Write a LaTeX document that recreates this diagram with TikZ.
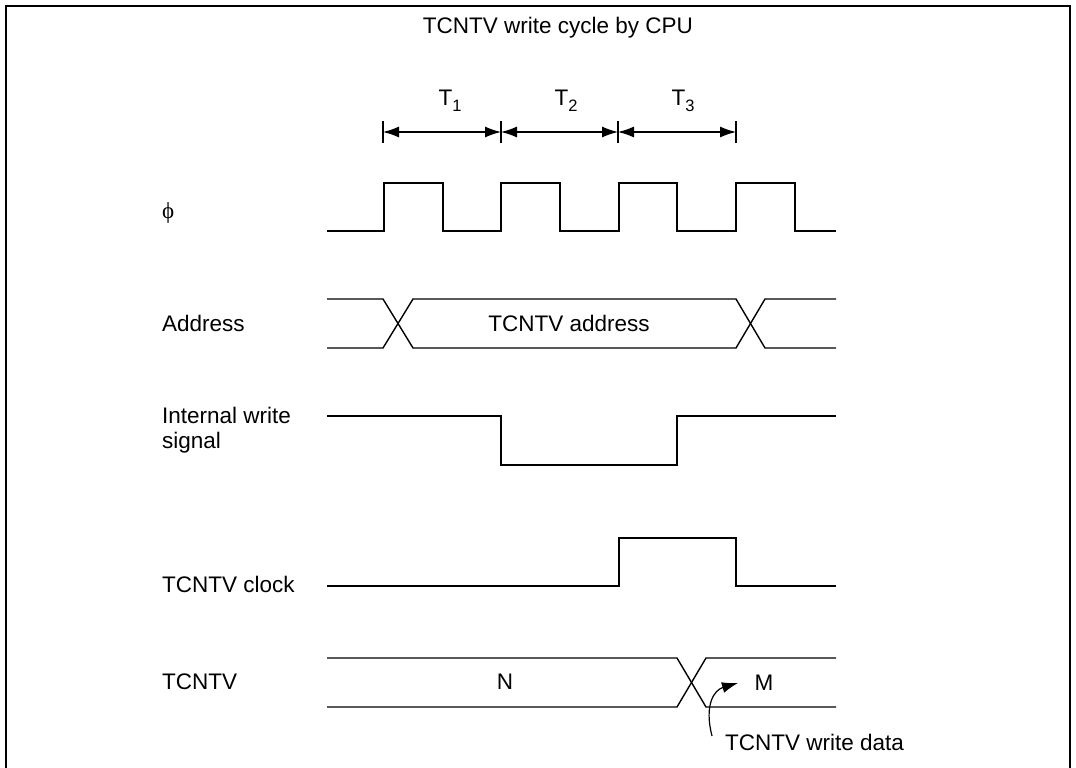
\documentclass[tikz,border=0pt]{standalone}
\usepackage{fontspec}
\setmainfont{Liberation Sans}
\newfontfamily\phifont{Liberation Serif}
\usetikzlibrary{arrows.meta}
\newcommand{\tsub}[1]{T\raisebox{-6pt}{\fontsize{16.5}{16.5}\selectfont #1}}
\begin{document}
\begin{tikzpicture}[x=1pt,y=-1pt,
  wave/.style={line width=1.4pt,line join=miter},
  lbl/.style={font=\fontsize{22.5}{25}\selectfont,inner sep=0pt},
  leftlbl/.style={lbl,anchor=west,align=left},
  tick/.style={line width=1.2pt},
  span/.style={line width=1.2pt,{Latex[length=16pt,width=11pt]}-{Latex[length=16pt,width=11pt]}},
  frame/.style={line width=2pt}]
\useasboundingbox (0,0) rectangle (1076,768);
\draw[frame] (6,775) -- (6,6) -- (1070,6) -- (1070,775);
% title
\node[lbl] (title) at (558,28) {TCNTV write cycle by CPU};
% T labels
\node[lbl] (t1) at (450,101) {\tsub{1}};
\node[lbl] (t2) at (566,101) {\tsub{2}};
\node[lbl] (t3) at (683,101) {\tsub{3}};
% ticks
\coordinate (k0) at (383,132);
\coordinate (k1) at (501,132);
\coordinate (k2) at (618,132);
\coordinate (k3) at (736,132);
\foreach \k in {k0,k1,k2,k3}{\draw[tick] ([yshift=-11pt]\k) -- ([yshift=11pt]\k);}
\draw[span] (k0) -- (k1);
\draw[span] (k1) -- (k2);
\draw[span] (k2) -- (k3);
% left labels
\node[leftlbl,font=\fontsize{23}{26}\phifont] (lphi) at (162,213) {ϕ};
\node[leftlbl] (laddr) at (162,323) {Address};
\node[leftlbl] (liws) at (162,430) {Internal write\\signal};
\node[leftlbl] (lclk) at (162,584) {TCNTV clock};
\node[leftlbl] (ltc) at (162,682) {TCNTV};
% phi clock
\draw[wave] (327,231) -- (384,231) -- (384,183) -- (443,183) -- (443,231)
  -- (501,231) -- (501,183) -- (560,183) -- (560,231)
  -- (619,231) -- (619,183) -- (677,183) -- (677,231)
  -- (736,231) -- (736,183) -- (795,183) -- (795,231) -- (836,231);
% address
\draw[wave] (327,299) -- (383,299) -- (413,348) -- (736,348) -- (765,299) -- (836,299);
\draw[wave] (327,348) -- (383,348) -- (413,299) -- (736,299) -- (765,348) -- (836,348);
\node[lbl] (addr) at (569,323) {TCNTV address};
% internal write
\draw[wave] (327,416) -- (501,416) -- (501,465) -- (677,465) -- (677,416) -- (836,416);
% TCNTV clock
\draw[wave] (327,586) -- (619,586) -- (619,538) -- (736,538) -- (736,586) -- (836,586);
% TCNTV
\draw[wave] (327,658) -- (677,658) -- (706,707) -- (836,707);
\draw[wave] (327,707) -- (677,707) -- (706,658) -- (836,658);
\node[lbl] (n) at (505,682) {N};
\node[lbl] (m) at (764,683) {M};
\node[lbl,anchor=west] (wd) at (725,742) {TCNTV write data};
\coordinate (as) at (712,736);
\coordinate (ae) at (738,683);
\draw[line width=1.2pt,-{Latex[length=16pt,width=11pt]}] (as) .. controls (704,705) and (714,690) .. (ae);
\end{tikzpicture}
\end{document}
